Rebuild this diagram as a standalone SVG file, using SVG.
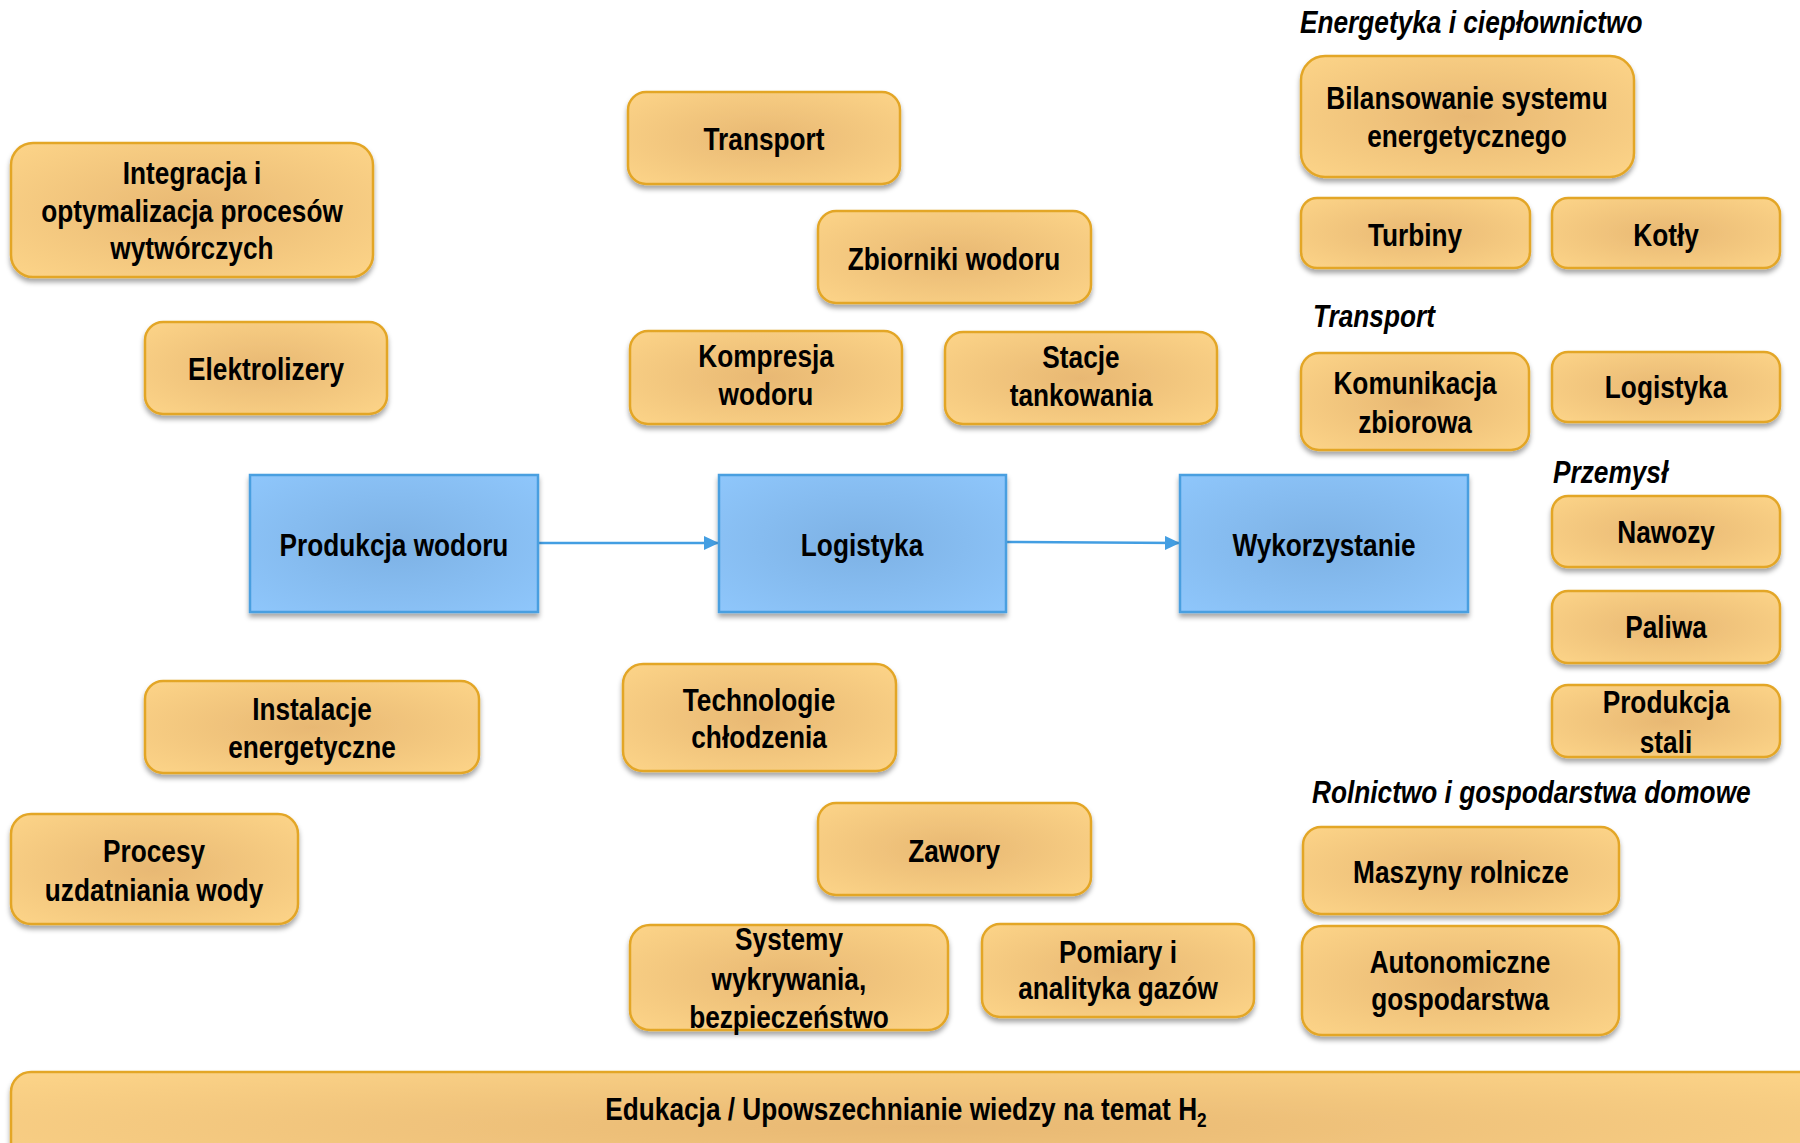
<svg xmlns="http://www.w3.org/2000/svg" width="1800" height="1143" viewBox="0 0 1800 1143">
<defs>
<radialGradient id="gOrange" cx="0.5" cy="0.5" r="0.72">
<stop offset="0" stop-color="#e8b873"/>
<stop offset="1" stop-color="#fdd589"/>
</radialGradient>
<radialGradient id="gBlue" cx="0.5" cy="0.5" r="0.72">
<stop offset="0" stop-color="#7db1e4"/>
<stop offset="1" stop-color="#8fc7fc"/>
</radialGradient>
<filter id="sh" x="-10%" y="-10%" width="120%" height="130%">
<feDropShadow dx="0" dy="4" stdDeviation="2.5" flood-color="#000" flood-opacity="0.35"/>
</filter>
<marker id="arr" markerWidth="15" markerHeight="14" refX="15" refY="7" orient="auto" markerUnits="userSpaceOnUse">
<path d="M0,0 L15,7 L0,14 Z" fill="#439ee2"/>
</marker>
</defs>
<style>
.o{fill:url(#gOrange);stroke:#e3a628;stroke-width:2.5;filter:url(#sh)}
.b{fill:url(#gBlue);stroke:#4a9fe0;stroke-width:2.5;filter:url(#sh)}
.t{font-family:"Liberation Sans",Arial,sans-serif;font-weight:bold;font-size:32px;fill:#000;text-anchor:middle;transform-box:fill-box;transform-origin:50% 50%;transform:scaleX(0.82)}
.h{font-family:"Liberation Sans",Arial,sans-serif;font-weight:bold;font-style:italic;font-size:32px;fill:#000;transform-box:fill-box;transform-origin:0% 50%;transform:scaleX(0.82)}
.c{fill:none;stroke:#439ee2;stroke-width:2.5;marker-end:url(#arr)}
</style>
<rect width="1800" height="1143" fill="#fff"/>

<g id="connectors">
<line class="c" x1="538" y1="543" x2="719" y2="543"/>
<line class="c" x1="1006" y1="542" x2="1180" y2="543"/>
</g>

<g id="node-integracja"><rect class="o" x="11" y="143" width="362" height="134" rx="22"/>
<text class="t" x="192" y="184">Integracja i</text><text class="t" x="192" y="222">optymalizacja procesów</text><text class="t" x="192" y="259">wytwórczych</text></g>
<g id="node-elektrolizery"><rect class="o" x="145" y="322" width="242" height="92" rx="18"/>
<text class="t" x="266" y="380">Elektrolizery</text></g>
<g id="node-instalacje"><rect class="o" x="145" y="681" width="334" height="92" rx="18"/>
<text class="t" x="312" y="720">Instalacje</text><text class="t" x="312" y="758">energetyczne</text></g>
<g id="node-procesy"><rect class="o" x="11" y="814" width="287" height="110" rx="20"/>
<text class="t" x="154" y="862">Procesy</text><text class="t" x="154" y="901">uzdatniania wody</text></g>

<g id="node-transport"><rect class="o" x="628" y="92" width="272" height="92" rx="18"/>
<text class="t" x="764" y="150">Transport</text></g>
<g id="node-zbiorniki"><rect class="o" x="818" y="211" width="273" height="92" rx="18"/>
<text class="t" x="954" y="270">Zbiorniki wodoru</text></g>
<g id="node-kompresja"><rect class="o" x="630" y="331" width="272" height="93" rx="18"/>
<text class="t" x="766" y="367">Kompresja</text><text class="t" x="766" y="405">wodoru</text></g>
<g id="node-stacje"><rect class="o" x="945" y="332" width="272" height="92" rx="18"/>
<text class="t" x="1081" y="368">Stacje</text><text class="t" x="1081" y="406">tankowania</text></g>

<g id="node-produkcja"><rect class="b" x="250" y="475" width="288" height="137"/>
<text class="t" x="394" y="556">Produkcja wodoru</text></g>
<g id="node-logistyka"><rect class="b" x="719" y="475" width="287" height="137"/>
<text class="t" x="862" y="556">Logistyka</text></g>
<g id="node-wykorzystanie"><rect class="b" x="1180" y="475" width="288" height="137"/>
<text class="t" x="1324" y="556">Wykorzystanie</text></g>

<g id="node-technologie"><rect class="o" x="623" y="664" width="273" height="107" rx="20"/>
<text class="t" x="759" y="711">Technologie</text><text class="t" x="759" y="748">chłodzenia</text></g>
<g id="node-zawory"><rect class="o" x="818" y="803" width="273" height="92" rx="18"/>
<text class="t" x="954" y="862">Zawory</text></g>
<g id="node-systemy"><rect class="o" x="630" y="925" width="318" height="105" rx="20"/>
<text class="t" x="789" y="950">Systemy</text><text class="t" x="789" y="990">wykrywania,</text><text class="t" x="789" y="1028">bezpieczeństwo</text></g>
<g id="node-pomiary"><rect class="o" x="982" y="924" width="272" height="93" rx="18"/>
<text class="t" x="1118" y="963">Pomiary i</text><text class="t" x="1118" y="999">analityka gazów</text></g>

<g id="label-energetyka"><text class="h" x="1300" y="33">Energetyka i ciepłownictwo</text></g>
<g id="node-bilansowanie"><rect class="o" x="1301" y="56" width="333" height="121" rx="24"/>
<text class="t" x="1467" y="109">Bilansowanie systemu</text><text class="t" x="1467" y="147">energetycznego</text></g>
<g id="node-turbiny"><rect class="o" x="1301" y="198" width="229" height="70" rx="16"/>
<text class="t" x="1415" y="246">Turbiny</text></g>
<g id="node-kotly"><rect class="o" x="1552" y="198" width="228" height="70" rx="16"/>
<text class="t" x="1666" y="246">Kotły</text></g>

<g id="label-transport"><text class="h" x="1313" y="327">Transport</text></g>
<g id="node-komunikacja"><rect class="o" x="1301" y="353" width="228" height="97" rx="18"/>
<text class="t" x="1415" y="394">Komunikacja</text><text class="t" x="1415" y="433">zbiorowa</text></g>
<g id="node-logistyka2"><rect class="o" x="1552" y="352" width="228" height="70" rx="16"/>
<text class="t" x="1666" y="398">Logistyka</text></g>

<g id="label-przemysl"><text class="h" x="1553" y="483">Przemysł</text></g>
<g id="node-nawozy"><rect class="o" x="1552" y="496" width="228" height="71" rx="16"/>
<text class="t" x="1666" y="543">Nawozy</text></g>
<g id="node-paliwa"><rect class="o" x="1552" y="591" width="228" height="72" rx="16"/>
<text class="t" x="1666" y="638">Paliwa</text></g>
<g id="node-stal"><rect class="o" x="1552" y="685" width="228" height="72" rx="16"/>
<text class="t" x="1666" y="713">Produkcja</text><text class="t" x="1666" y="753">stali</text></g>

<g id="label-rolnictwo"><text class="h" x="1312" y="803">Rolnictwo i gospodarstwa domowe</text></g>
<g id="node-maszyny"><rect class="o" x="1303" y="827" width="316" height="87" rx="18"/>
<text class="t" x="1461" y="883">Maszyny rolnicze</text></g>
<g id="node-autonomiczne"><rect class="o" x="1302" y="926" width="317" height="109" rx="20"/>
<text class="t" x="1460" y="973">Autonomiczne</text><text class="t" x="1460" y="1010">gospodarstwa</text></g>

<g id="node-edukacja"><rect class="o" x="11" y="1072" width="1820" height="110" rx="20"/>
<text class="t" x="906" y="1120">Edukacja / Upowszechnianie wiedzy na temat H<tspan font-size="21" dy="7">2</tspan></text></g>
</svg>
